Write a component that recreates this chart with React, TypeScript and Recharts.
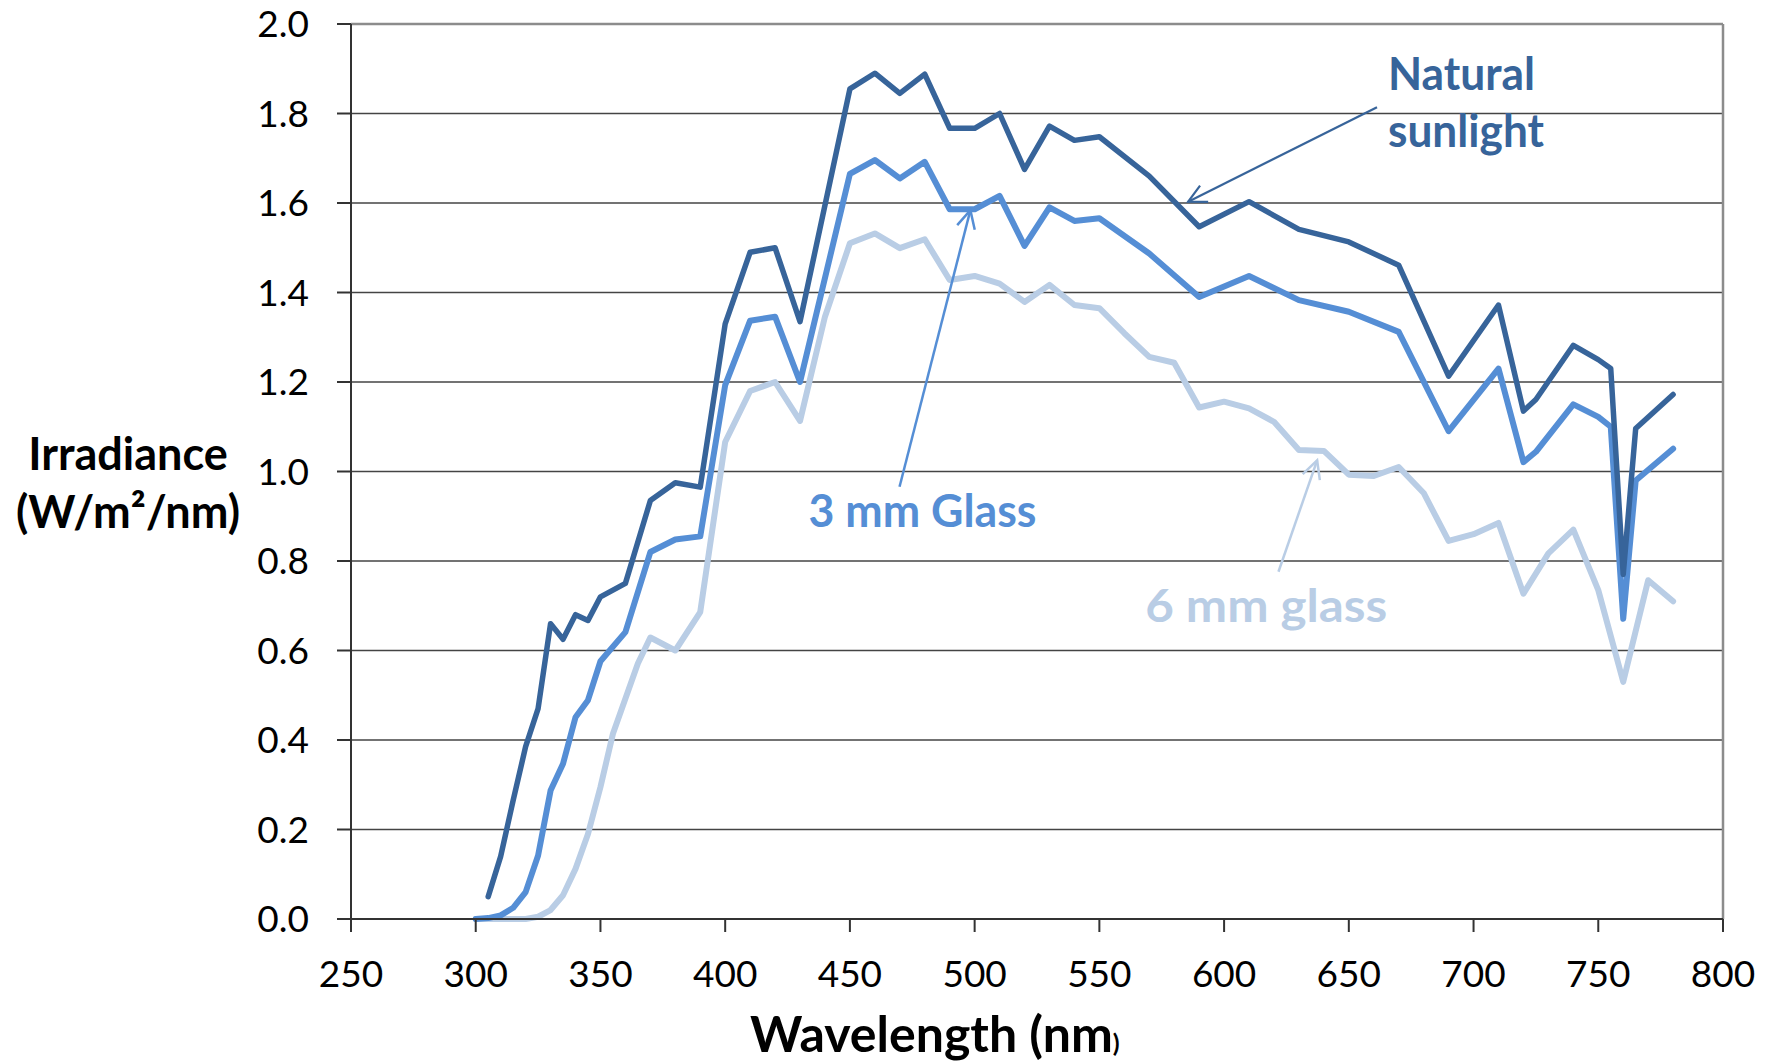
import {
  LineChart,
  Line,
  XAxis,
  YAxis,
  CartesianGrid,
  ReferenceLine,
  ReferenceDot,
  Label,
} from 'recharts';

// wavelengths (nm) and irradiance (W/m2/nm)
const naturalNm = [305, 310, 315, 320, 325, 330, 335, 340, 345, 350, 360, 370, 380, 390, 400, 410, 420, 430, 450, 460, 470, 480, 490, 500, 510, 520, 530, 540, 550, 570, 590, 610, 630, 650, 670, 690, 710, 720, 725, 740, 750, 755, 760, 765, 780];
const naturalVal = [0.05, 0.14, 0.265, 0.385, 0.47, 0.66, 0.625, 0.68, 0.667, 0.72, 0.75, 0.935, 0.975, 0.965, 1.33, 1.49, 1.5, 1.335, 1.855, 1.89, 1.845, 1.888, 1.767, 1.767, 1.8, 1.675, 1.772, 1.74, 1.748, 1.66, 1.547, 1.603, 1.541, 1.513, 1.461, 1.213, 1.372, 1.135, 1.161, 1.282, 1.25, 1.23, 0.77, 1.096, 1.172];

const glass3Nm = [300, 305, 310, 315, 320, 325, 330, 335, 340, 345, 350, 360, 370, 380, 390, 400, 410, 420, 430, 450, 460, 470, 480, 490, 500, 510, 520, 530, 540, 550, 570, 590, 610, 630, 650, 670, 690, 710, 720, 725, 740, 750, 755, 760, 765, 780];
const glass3Val = [0, 0.002, 0.008, 0.025, 0.06, 0.142, 0.287, 0.347, 0.451, 0.489, 0.576, 0.641, 0.82, 0.848, 0.855, 1.193, 1.337, 1.346, 1.2, 1.665, 1.696, 1.655, 1.692, 1.586, 1.586, 1.616, 1.504, 1.59, 1.56, 1.566, 1.487, 1.39, 1.437, 1.383, 1.357, 1.312, 1.09, 1.23, 1.021, 1.044, 1.15, 1.122, 1.1, 0.671, 0.98, 1.051];

const glass6Nm = [300, 305, 310, 315, 320, 325, 330, 335, 340, 345, 350, 355, 365, 370, 380, 390, 400, 410, 420, 430, 440, 450, 460, 470, 480, 490, 500, 510, 520, 530, 540, 550, 560, 570, 580, 590, 600, 610, 620, 630, 640, 650, 660, 670, 680, 690, 700, 710, 720, 730, 740, 750, 760, 770, 780];
const glass6Val = [0, 0, 0, 0, 0, 0.005, 0.02, 0.053, 0.112, 0.19, 0.295, 0.414, 0.571, 0.629, 0.6, 0.686, 1.066, 1.18, 1.2, 1.113, 1.346, 1.51, 1.532, 1.499, 1.519, 1.428, 1.437, 1.42, 1.379, 1.417, 1.372, 1.365, 1.309, 1.256, 1.243, 1.143, 1.156, 1.141, 1.111, 1.048, 1.046, 0.993, 0.99, 1.01, 0.952, 0.845, 0.86, 0.885, 0.727, 0.817, 0.87, 0.735, 0.53, 0.757, 0.71];

const xTicks = [250, 300, 350, 400, 450, 500, 550, 600, 650, 700, 750, 800];
const yTicks = [0, 0.2, 0.4, 0.6, 0.8, 1.0, 1.2, 1.4, 1.6, 1.8, 2.0];

const DARK = '#37649a';
const MID = '#558ed5';
const LIGHT = '#b9cde5';
const FONT = 'Lato, "Open Sans", sans-serif';

const toPoints = (nm: number[], val: number[]) => nm.map((x, i) => ({ nm: x, v: val[i] }));

// line with an open arrowhead at (x2, y2)
const arrow = (color: string, w: number) => (props: any) => {
  const { x1, y1, x2, y2 } = props;
  const a = Math.atan2(y2 - y1, x2 - x1);
  const len = 20;
  const spread = 0.47;
  const ax = x2 - len * Math.cos(a - spread);
  const ay = y2 - len * Math.sin(a - spread);
  const bx = x2 - len * Math.cos(a + spread);
  const by = y2 - len * Math.sin(a + spread);
  return (
    <g>
      <line x1={x1} y1={y1} x2={x2} y2={y2} stroke={color} strokeWidth={w} />
      <polyline points={`${ax},${ay} ${x2},${y2} ${bx},${by}`} fill="none" stroke={color} strokeWidth={w} />
    </g>
  );
};

const note = (lines: string[], color: string, widths: number[]) => (props: any) => (
  <text x={props.cx} y={props.cy} fill={color} fontSize={45} fontWeight={700} fontFamily={FONT}>
    {lines.map((t, i) => (
      <tspan key={t} x={props.cx} dy={i === 0 ? 0 : 57} textLength={widths[i]} lengthAdjust="spacingAndGlyphs">{t}</tspan>
    ))}
  </text>
);

const YTitle = (props: any) => {
  const { x, y } = props.viewBox;
  return (
    <text textAnchor="middle" fill="#000" fontSize={45} fontWeight={700} fontFamily={FONT}>
      <tspan x={x + 128} y={y + 446}>Irradiance</tspan>
      <tspan x={x + 128} y={y + 504}>(W/m²/nm)</tspan>
    </text>
  );
};

const XTitle = (props: any) => {
  const { x, y } = props.viewBox;
  return (
    <text x={x + 399} y={y + 133} fill="#000" fontSize={50} fontWeight={700} fontFamily={FONT}>
      Wavelength (nm<tspan fontSize={25}>)</tspan>
    </text>
  );
};

export default function App() {
  return (
    <div style={{ position: 'absolute', left: 0, top: 0, background: '#fff' }}>
      <LineChart width={1775} height={1062} margin={{ top: 24, right: 52, bottom: 43, left: 0 }}>
        <CartesianGrid vertical={false} stroke="#444" strokeWidth={1.3} />
        <XAxis
          type="number"
          dataKey="nm"
          domain={[250, 800]}
          ticks={xTicks}
          height={100}
          tickSize={13}
          tickMargin={29}
          stroke="#333"
          strokeWidth={2}
          tick={{ fill: '#000', fontSize: 37, fontFamily: FONT }}
        >
          <Label content={XTitle} />
        </XAxis>
        <YAxis
          type="number"
          domain={[0, 2]}
          ticks={yTicks}
          width={351}
          tickSize={14}
          tickMargin={28}
          stroke="#333"
          strokeWidth={2}
          tickFormatter={(v: number) => v.toFixed(1)}
          tick={{ fill: '#000', fontSize: 37, fontFamily: FONT }}
        >
          <Label content={YTitle} />
        </YAxis>
        <ReferenceLine y={2} stroke="#8c8c8c" strokeWidth={2.5} />
        <ReferenceLine x={800} stroke="#8c8c8c" strokeWidth={2.5} />

        <Line data={toPoints(glass6Nm, glass6Val)} dataKey="v" type="linear" stroke={LIGHT} strokeWidth={6} strokeLinejoin="round" strokeLinecap="round" dot={false} isAnimationActive={false} />
        <Line data={toPoints(glass3Nm, glass3Val)} dataKey="v" type="linear" stroke={MID} strokeWidth={6} strokeLinejoin="round" strokeLinecap="round" dot={false} isAnimationActive={false} />
        <Line data={toPoints(naturalNm, naturalVal)} dataKey="v" type="linear" stroke={DARK} strokeWidth={5.5} strokeLinejoin="round" strokeLinecap="round" dot={false} isAnimationActive={false} />

        <ReferenceLine segment={[{ x: 661.3, y: 1.814 }, { x: 585.6, y: 1.603 }]} shape={arrow(DARK, 2.2)} />
        <ReferenceLine segment={[{ x: 469.9, y: 0.966 }, { x: 498.3, y: 1.584 }]} shape={arrow(MID, 2.5)} />
        <ReferenceLine segment={[{ x: 621.8, y: 0.776 }, { x: 637.3, y: 1.025 }]} shape={arrow(LIGHT, 2.5)} />

        <ReferenceDot x={665.7} y={1.853} r={0} shape={note(['Natural', 'sunlight'], DARK, [147, 156])} />
        <ReferenceDot x={433.4} y={0.876} r={0} shape={note(['3 mm Glass'], MID, [228])} />
        <ReferenceDot x={568.4} y={0.663} r={0} shape={note(['6 mm glass'], LIGHT, [242])} />
      </LineChart>
    </div>
  );
}
